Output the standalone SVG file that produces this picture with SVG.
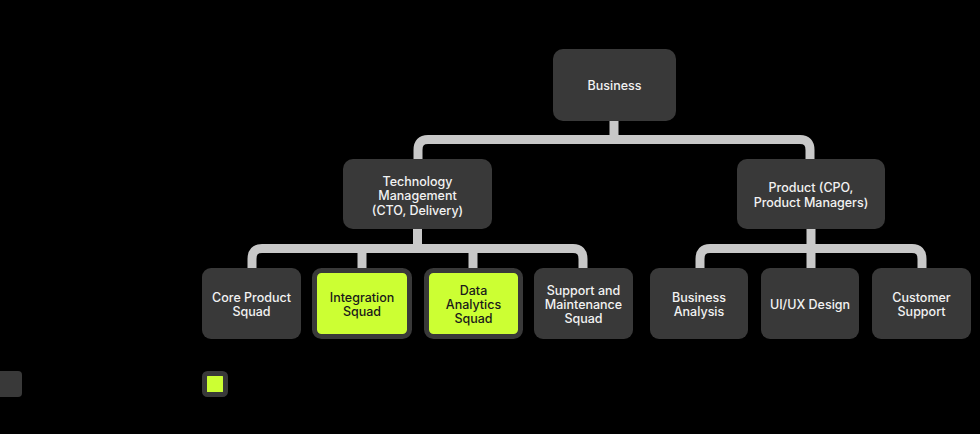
<svg xmlns="http://www.w3.org/2000/svg" width="980" height="434" viewBox="0 0 980 434">
<style>
.box{fill:#393939;}
.hl{fill:#ccff33;stroke:#393939;stroke-width:5;}
.t{font-family:Inter,"Noto Sans","Liberation Sans",sans-serif;font-size:12.5px;font-weight:500;fill:#f2f2f2;text-anchor:middle;}
.d{fill:#1a1a1a;}
.c{fill:none;stroke:#c8c8c8;stroke-width:9;stroke-linejoin:round;}
</style>
<rect x="0" y="0" width="980" height="434" fill="#000"/>
<g id="connectors">
<path class="c" d="M614 121 V139.5"/>
<path class="c" d="M418 159 V150 Q418 139.5 428 139.5 H800 Q810 139.5 810 150 V159"/>
<path class="c" d="M417.5 229 V248.5"/>
<path class="c" d="M252 268 V259 Q252 248.5 262 248.5 H573 Q583 248.5 583 259 V268"/>
<path class="c" d="M362 248.5 V268"/>
<path class="c" d="M473 248.5 V268"/>
<path class="c" d="M811 229 V268"/>
<path class="c" d="M700 268 V259 Q700 248.5 710 248.5 H912 Q922 248.5 922 259 V268"/>
</g>
<g id="business"><rect class="box" x="553" y="49" width="123" height="72" rx="10"/><text class="t" x="614.5" y="90">Business</text></g>
<g id="tech"><rect class="box" x="343" y="159" width="149" height="70" rx="10"/><text class="t" x="417.5" y="186">Technology</text><text class="t" x="417.5" y="200">Management</text><text class="t" x="417.5" y="215">(CTO, Delivery)</text></g>
<g id="product"><rect class="box" x="737" y="159" width="148" height="70" rx="10"/><text class="t" x="811" y="192">Product (CPO,</text><text class="t" x="811" y="206.5">Product Managers)</text></g>
<g id="core"><rect class="box" x="202" y="268" width="99" height="71" rx="9"/><text class="t" x="251.5" y="301.5">Core Product</text><text class="t" x="251.5" y="315.5">Squad</text></g>
<g id="integration"><rect class="hl" x="314.5" y="270.5" width="95" height="66" rx="7"/><text class="t d" x="362" y="301.5">Integration</text><text class="t d" x="362" y="315.5">Squad</text></g>
<g id="analytics"><rect class="hl" x="426.5" y="270.5" width="94" height="66" rx="7"/><text class="t d" x="473.5" y="295">Data</text><text class="t d" x="473.5" y="308.5">Analytics</text><text class="t d" x="473.5" y="323">Squad</text></g>
<g id="support"><rect class="box" x="534" y="268" width="99" height="71" rx="9"/><text class="t" x="583.5" y="295">Support and</text><text class="t" x="583.5" y="308.5">Maintenance</text><text class="t" x="583.5" y="323">Squad</text></g>
<g id="ba"><rect class="box" x="650" y="268" width="98" height="71" rx="9"/><text class="t" x="699" y="301.5">Business</text><text class="t" x="699" y="315.5">Analysis</text></g>
<g id="uiux"><rect class="box" x="761" y="268" width="98" height="71" rx="9"/><text class="t" x="810" y="308.5">UI/UX Design</text></g>
<g id="cs"><rect class="box" x="872" y="268" width="99" height="71" rx="9"/><text class="t" x="921.5" y="301.5">Customer</text><text class="t" x="921.5" y="315.5">Support</text></g>
<g id="legend">
<rect class="box" x="-6" y="371" width="28" height="26" rx="4"/>
<rect class="hl" x="204.5" y="373.5" width="21" height="21" rx="3"/>
</g>
</svg>
